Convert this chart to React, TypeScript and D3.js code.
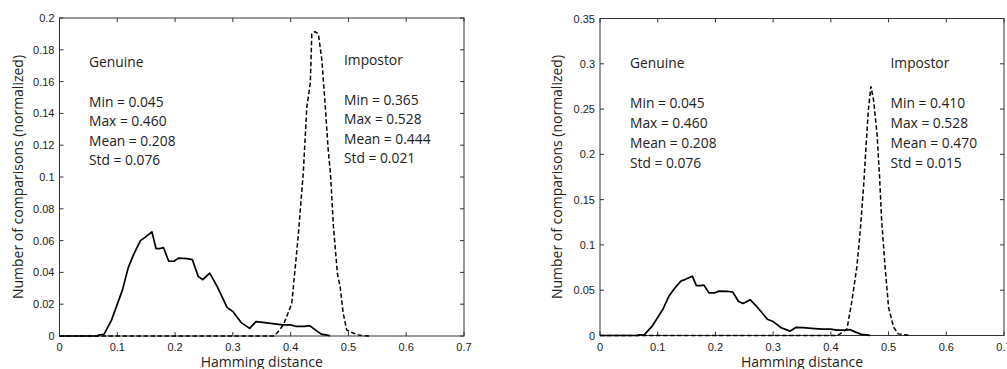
import React from "react";
import * as d3 from "d3";

// Genuine distribution (solid), shared by both panels
const genuineX = [0, 0.065, 0.067, 0.077, 0.09, 0.109, 0.119, 0.128, 0.14, 0.148, 0.16, 0.167, 0.174, 0.18, 0.189, 0.198, 0.206, 0.221, 0.23, 0.24, 0.248, 0.26, 0.273, 0.29, 0.3, 0.314, 0.329, 0.34, 0.352, 0.372, 0.386, 0.4, 0.41, 0.424, 0.433, 0.442, 0.453, 0.468];
const genuineY = [0, 0, 0.0006, 0.001, 0.01, 0.029, 0.043, 0.051, 0.06, 0.062, 0.0655, 0.055, 0.055, 0.0556, 0.047, 0.047, 0.049, 0.0487, 0.048, 0.0375, 0.0354, 0.0396, 0.031, 0.018, 0.0154, 0.0086, 0.0048, 0.009, 0.0086, 0.0076, 0.007, 0.007, 0.006, 0.006, 0.0065, 0.004, 0.0012, 0.0002];

// Impostor distribution, left panel (dashed)
const impostor1X = [0, 0.37, 0.376, 0.3875, 0.402, 0.413, 0.422, 0.428, 0.434, 0.4366, 0.442, 0.448, 0.454, 0.46, 0.465, 0.469, 0.474, 0.481, 0.4856, 0.491, 0.497, 0.509, 0.52, 0.537];
const impostor1Y = [0, 0, 0.0017, 0.007, 0.0205, 0.0625, 0.1033, 0.144, 0.159, 0.19, 0.1914, 0.19, 0.1736, 0.144, 0.117, 0.102, 0.069, 0.039, 0.031, 0.0143, 0.0038, 0.0017, 0.0004, 0];

// Impostor distribution, right panel (dashed)
const impostor2X = [0, 0.41, 0.416, 0.428, 0.4366, 0.445, 0.451, 0.4566, 0.4624, 0.465, 0.4694, 0.474, 0.48, 0.4844, 0.488, 0.494, 0.5, 0.5087, 0.517, 0.529, 0.5376];
const impostor2Y = [0, 0, 0.0018, 0.0074, 0.0387, 0.0755, 0.116, 0.164, 0.223, 0.249, 0.275, 0.26, 0.223, 0.175, 0.127, 0.0755, 0.031, 0.0092, 0.0018, 0.0007, 0];

const xTicks = [0, 0.1, 0.2, 0.3, 0.4, 0.5, 0.6, 0.7];
const yTicks1 = [0, 0.02, 0.04, 0.06, 0.08, 0.1, 0.12, 0.14, 0.16, 0.18, 0.2];
const yTicks2 = [0, 0.05, 0.1, 0.15, 0.2, 0.25, 0.3, 0.35];

const genuineStats = ["Min = 0.045", "Max = 0.460", "Mean = 0.208", "Std = 0.076"];
const impostorStats1 = ["Min = 0.365", "Max = 0.528", "Mean = 0.444", "Std = 0.021"];
const impostorStats2 = ["Min = 0.410", "Max = 0.528", "Mean = 0.470", "Std = 0.015"];

const xLabel = "Hamming distance";
const yLabel = "Number of comparisons (normalized)";

type PanelProps = {
  x0: number; x1: number; y0: number; y1: number;
  yMax: number; yTicks: number[];
  impX: number[]; impY: number[];
  impStats: string[];
  genPos: [number, number]; impPos: [number, number];
  statsDy: number; lineH: number;
  yLabelX: number;
};

const tickFont = "'Liberation Sans', Arial, sans-serif";
const textFont = "'Open Sans', sans-serif";

function fmt(v: number) {
  return v === 0 ? "0" : String(+v.toFixed(2));
}

function Panel(p: PanelProps) {
  const x = d3.scaleLinear().domain([0, 0.7]).range([p.x0, p.x1]);
  const y = d3.scaleLinear().domain([0, p.yMax]).range([p.y0, p.y1]);
  const line = d3.line<[number, number]>().x((d) => x(d[0])).y((d) => y(d[1]));
  const gen = genuineX.map((v, i) => [v, genuineY[i]] as [number, number]);
  const imp = p.impX.map((v, i) => [v, p.impY[i]] as [number, number]);
  const tl = 4;
  const axisColor = "#333";
  return (
    <g>
      <rect x={p.x0} y={p.y1} width={p.x1 - p.x0} height={p.y0 - p.y1} fill="none" stroke={axisColor} strokeWidth={1} />
      {xTicks.map((t) => (
        <g key={"x" + t}>
          <line x1={x(t)} x2={x(t)} y1={p.y0} y2={p.y0 - tl} stroke={axisColor} />
          <line x1={x(t)} x2={x(t)} y1={p.y1} y2={p.y1 + tl} stroke={axisColor} />
          <text x={x(t)} y={p.y0 + 15} textAnchor="middle" fontFamily={tickFont} fontSize={11} fill="#222">{fmt(t)}</text>
        </g>
      ))}
      {p.yTicks.map((t) => (
        <g key={"y" + t}>
          <line x1={p.x0} x2={p.x0 + tl} y1={y(t)} y2={y(t)} stroke={axisColor} />
          <line x1={p.x1} x2={p.x1 - tl} y1={y(t)} y2={y(t)} stroke={axisColor} />
          <text x={p.x0 - 5} y={y(t) + 4} textAnchor="end" fontFamily={tickFont} fontSize={11} fill="#222">{fmt(t)}</text>
        </g>
      ))}
      <path d={line(gen) || ""} fill="none" stroke="#000" strokeWidth={1.7} strokeLinejoin="round" />
      <path d={line(imp) || ""} fill="none" stroke="#000" strokeWidth={1.5} strokeDasharray="4.5,2.5" />
      <text x={(p.x0 + p.x1) / 2} y={367} textAnchor="middle" fontFamily={textFont} fontSize={14} fill="#222">{xLabel}</text>
      <text transform={`translate(${p.yLabelX},${(p.y0 + p.y1) / 2}) rotate(-90)`} textAnchor="middle" fontFamily={textFont} fontSize={14} fill="#222">{yLabel}</text>
      <g fontFamily={textFont} fontSize={13.8} fill="#222">
        <text x={p.genPos[0]} y={p.genPos[1]}>Genuine</text>
        {genuineStats.map((s, i) => (
          <text key={s} x={p.genPos[0]} y={p.genPos[1] + p.statsDy + i * p.lineH}>{s}</text>
        ))}
        <text x={p.impPos[0]} y={p.impPos[1]}>Impostor</text>
        {p.impStats.map((s, i) => (
          <text key={s + i} x={p.impPos[0]} y={p.impPos[1] + p.statsDy + i * p.lineH}>{s}</text>
        ))}
      </g>
    </g>
  );
}

export default function App() {
  return (
    <svg width={1007} height={369} style={{ position: "absolute", left: 0, top: 0, background: "#fff" }}>
      <rect width={1007} height={369} fill="#fff" />
      <Panel x0={59.5} x1={464} y0={336} y1={18} yMax={0.2} yTicks={yTicks1}
        impX={impostor1X} impY={impostor1Y} impStats={impostorStats1}
        genPos={[89, 67]} impPos={[344, 65]} statsDy={39.5} lineH={19.5} yLabelX={23} />
      <Panel x0={600} x1={1004} y0={335.5} y1={18.5} yMax={0.35} yTicks={yTicks2}
        impX={impostor2X} impY={impostor2Y} impStats={impostorStats2}
        genPos={[630, 68]} impPos={[890.5, 68]} statsDy={39.5} lineH={20} yLabelX={562} />
    </svg>
  );
}
